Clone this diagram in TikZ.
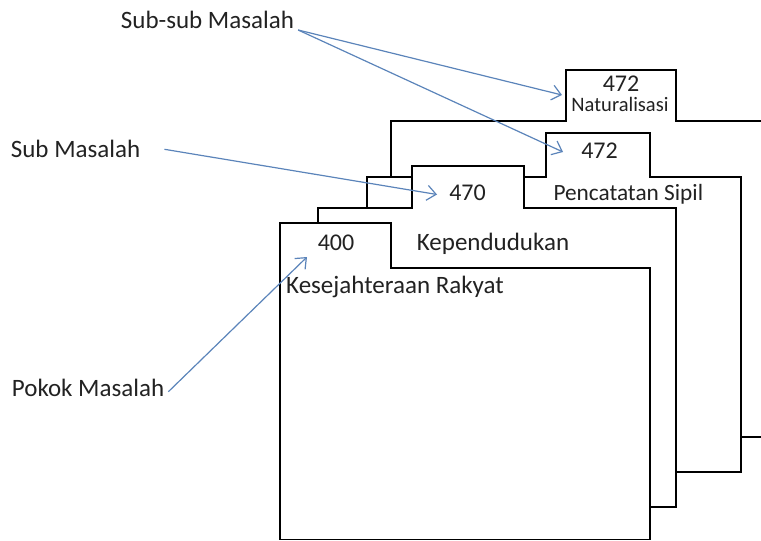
\documentclass[tikz,border=0pt]{standalone}
\usepackage{fontspec}
\setmainfont{Carlito}
\usetikzlibrary{arrows.meta,calc}
\definecolor{arrowblue}{HTML}{5B84BA}
\definecolor{inktext}{HTML}{222222}
\begin{document}
\begin{tikzpicture}[x=1pt,y=-1pt,
  folder/.style={draw=black, fill=white, line width=1.6pt, line join=miter},
  lbl/.style={inner sep=0pt, anchor=base west, text=inktext, font=\fontsize{25}{30}\selectfont},
  num/.style={inner sep=0pt, anchor=base, text=inktext, font=\fontsize{24}{28}\selectfont},
  arr/.style={draw=arrowblue, line width=1.2pt, -{Straight Barb[length=9pt,width=15pt,line width=1.2pt]}},
]
\useasboundingbox (0,0) rectangle (761,541);
\clip (0,0) rectangle (761,541);

% folders, back to front
\draw[folder] (391,437) -- (391,121) -- (566,121) -- (566,70) -- (676,70) -- (676,121) -- (790,121) -- (790,437) -- cycle;
\draw[folder] (367,472) -- (367,177) -- (546,177) -- (546,133) -- (650,133) -- (650,177) -- (741,177) -- (741,472) -- cycle;
\draw[folder] (318,507) -- (318,208) -- (412,208) -- (412,166) -- (524,166) -- (524,208) -- (676,208) -- (676,507) -- cycle;
\draw[folder] (280,539.5) -- (280,223) -- (391,223) -- (391,268) -- (650,268) -- (650,539.5) -- cycle;

% folder texts
\node[num] (n472a) at (621,91.7) {472};
\node[lbl, anchor=base, font=\fontsize{20.5}{24}\selectfont] (nat) at (620,111.7) {Naturalisasi};
\node[num] (n472b) at (599.5,158.3) {472};
\node[lbl, font=\fontsize{23.3}{27}\selectfont] (pen) at (553.3,200) {Pencatatan Sipil};
\node[num] (n470) at (467.5,200) {470};
\node[lbl] (kep) at (416.7,250.7) {Kependudukan};
\node[num] (n400) at (336,250) {400};
\node[lbl] (kes) at (286,293.3) {Kesejahteraan Rakyat};

% labels
\node[lbl] (ss) at (120.7,28.3) {Sub-sub Masalah};
\node[lbl] (sm) at (10.7,157.3) {Sub Masalah};
\node[lbl] (pm) at (11.7,396.7) {Pokok Masalah};

% arrow tips
\coordinate (tNat) at (562,95);
\coordinate (tPen) at (563,152);
\coordinate (tKep) at (437,194.5);
\coordinate (tKes) at (307,257);

\draw[arr] ($(ss.base east)+(4,1.7)$) -- (tNat);
\draw[arr] ($(ss.base east)+(4,1.7)$) -- (tPen);
\draw[arr] ($(sm.base east)+(24,-8)$) -- (tKep);
\draw[arr] ($(pm.base east)+(4,-5)$) -- (tKes);
\end{tikzpicture}
\end{document}
